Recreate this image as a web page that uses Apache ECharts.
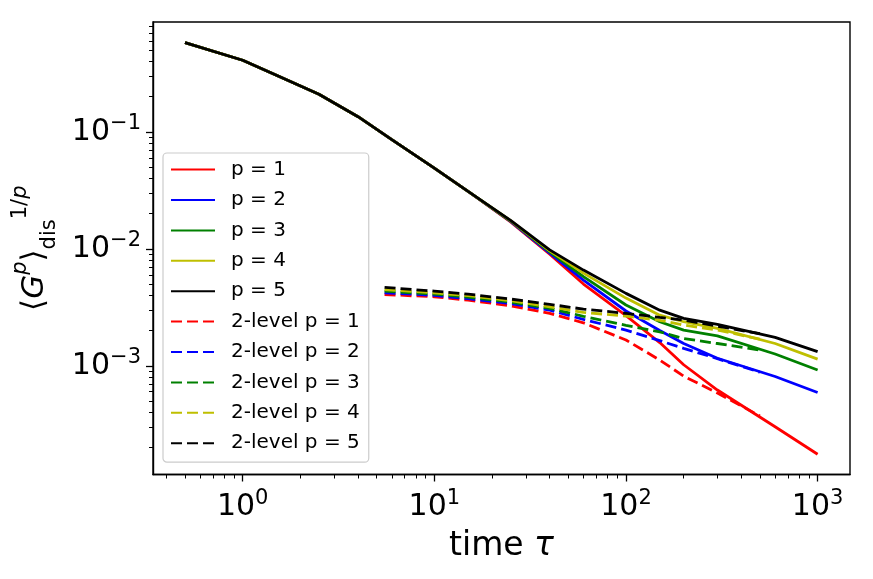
<!DOCTYPE html>
<html>
<head>
<meta charset="utf-8">
<script src="https://cdn.jsdelivr.net/npm/echarts@6/dist/echarts.min.js"></script>
<style>
html, body { margin: 0; padding: 0; background: #fff; }
#chart { width: 873px; height: 579px; }
</style>
</head>
<body>
<div id="chart"></div>
<script>
// time grid of the full curves and of the 2-level curves
var tauSolid = [0.5, 1, 1.5, 2.5, 4, 6, 10, 15, 25, 40, 60, 100, 150, 200, 300, 600, 1000];
var tauDashed = [5.5, 10, 15, 25, 40, 60, 100, 150, 200, 300, 500];

// <G^p>_dis^(1/p), full curves
var solidP1 = [0.58, 0.41, 0.305, 0.21, 0.135, 0.086, 0.049, 0.031, 0.0170, 0.0090, 0.0050, 0.00268, 0.00158, 0.00102, 0.00062, 0.000301, 0.000175];
var solidP2 = [0.58, 0.41, 0.305, 0.21, 0.135, 0.086, 0.049, 0.031, 0.0172, 0.0092, 0.0054, 0.00294, 0.0020, 0.00155, 0.00116, 0.00081, 0.00059];
var solidP3 = [0.58, 0.41, 0.305, 0.21, 0.135, 0.086, 0.049, 0.031, 0.0173, 0.0094, 0.00578, 0.00331, 0.00238, 0.00202, 0.00180, 0.00126, 0.00092];
var solidP4 = [0.58, 0.41, 0.305, 0.21, 0.135, 0.086, 0.049, 0.031, 0.0174, 0.0096, 0.0062, 0.00379, 0.00271, 0.00238, 0.00209, 0.00155, 0.00114];
var solidP5 = [0.58, 0.41, 0.305, 0.21, 0.135, 0.086, 0.049, 0.031, 0.0175, 0.0098, 0.00658, 0.00416, 0.00299, 0.00254, 0.00226, 0.00175, 0.00132];

// 2-level approximation
var dashedP1 = [0.00407, 0.00389, 0.00364, 0.00326, 0.00281, 0.00233, 0.00166, 0.00112, 0.000815, 0.000585, 0.000372];
var dashedP2 = [0.00421, 0.00400, 0.00375, 0.00340, 0.00299, 0.00249, 0.00202, 0.00164, 0.00141, 0.00115, 0.00088];
var dashedP3 = [0.00435, 0.00410, 0.00386, 0.00350, 0.00310, 0.00265, 0.00222, 0.00195, 0.00171, 0.00155, 0.00136];
var dashedP4 = [0.00448, 0.00420, 0.00398, 0.00360, 0.00319, 0.00286, 0.00266, 0.00245, 0.00223, 0.00202, 0.00169];
var dashedP5 = [0.00468, 0.00435, 0.00410, 0.00372, 0.00335, 0.00305, 0.00281, 0.00259, 0.00246, 0.00218, 0.00188];

var colors = ['#ff0000', '#0000ff', '#008000', '#bfbf00', '#000000'];

// axis extent and ticks, in decades
var xRange = [-0.468, 3.169];
var yRange = [-3.930, -0.060];
var xTickExps = [0, 1, 2, 3];
var yTickExps = [-3, -2, -1];

function toLog(ts, vs) {
  return ts.map(function (t, i) { return [Math.log10(t), Math.log10(vs[i])]; });
}

function minorTicks(r) {
  var out = [];
  for (var n = Math.floor(r[0]); n <= Math.ceil(r[1]); n++) {
    for (var k = 2; k <= 9; k++) {
      var v = n + Math.log10(k);
      if (v >= r[0] && v <= r[1]) out.push(v);
    }
  }
  return out;
}

function powLabel(v) {
  var e = Math.round(v);
  return '{b|10}{s|' + (e < 0 ? '\u2212' + (-e) : e) + '}';
}

var tickRich = {
  b: { fontSize: 30, lineHeight: 38, fontFamily: 'DejaVu Sans', color: '#000' },
  s: { fontSize: 21, lineHeight: 21, fontFamily: 'DejaVu Sans', color: '#000', verticalAlign: 'top' }
};

var solidSets = [solidP1, solidP2, solidP3, solidP4, solidP5];
var dashedSets = [dashedP1, dashedP2, dashedP3, dashedP4, dashedP5];
var series = [];
solidSets.forEach(function (d, i) {
  series.push({
    name: 'p = ' + (i + 1), type: 'line', symbol: 'none', data: toLog(tauSolid, d),
    lineStyle: { color: colors[i], width: 2.8 }, itemStyle: { color: colors[i] }
  });
});
dashedSets.forEach(function (d, i) {
  series.push({
    name: '2-level p = ' + (i + 1), type: 'line', symbol: 'none', data: toLog(tauDashed, d),
    lineStyle: { color: colors[i], width: 2.8, type: [11, 5] }, itemStyle: { color: colors[i] }
  });
});

var myChart = echarts.init(document.getElementById('chart'));
myChart.setOption({
  animation: false,
  backgroundColor: '#fff',
  textStyle: { fontFamily: 'DejaVu Sans' },
  grid: {
    left: 153, right: 23, top: 22, bottom: 104.5,
    show: true, borderColor: '#000', borderWidth: 1.4,
    containLabel: false, outerBoundsMode: 'none'
  },
  legend: {
    orient: 'vertical', left: 163, top: 153,
    padding: [6.6, 9, 9, 7],
    itemWidth: 44, itemHeight: 14, itemGap: 10.4,
    itemStyle: { opacity: 0 },
    backgroundColor: 'rgba(255,255,255,0.8)',
    borderColor: '#cccccc', borderWidth: 1.2, borderRadius: 4,
    textStyle: { fontSize: 20, lineHeight: 20, color: '#000', fontFamily: 'DejaVu Sans', padding: [0, 0, 0, 11] },
    data: series.map(function (s) { return s.name; })
  },
  xAxis: [{
    type: 'value', min: xRange[0], max: xRange[1], position: 'bottom',
    axisLine: { show: true, onZero: false, lineStyle: { color: '#000', width: 1.4 } },
    axisTick: { show: true, customValues: xTickExps, length: 7, lineStyle: { color: '#000', width: 1.3 } },
    axisLabel: { customValues: xTickExps, formatter: powLabel, rich: tickRich, margin: 14 },
    splitLine: { show: false },
    name: '{n|time }{t|\u03c4}', nameLocation: 'middle', nameGap: 55,
    nameTextStyle: {
      rich: {
        n: { fontSize: 33, fontFamily: 'DejaVu Sans', color: '#000' },
        t: { fontSize: 33, fontFamily: 'DejaVu Sans', fontStyle: 'italic', color: '#000' }
      }
    }
  }, {
    type: 'value', min: xRange[0], max: xRange[1], position: 'bottom',
    axisLine: { show: false, onZero: false },
    axisTick: { show: true, customValues: minorTicks(xRange), length: 4, lineStyle: { color: '#000', width: 1 } },
    axisLabel: { show: false },
    splitLine: { show: false }
  }],
  yAxis: [{
    type: 'value', min: yRange[0], max: yRange[1], position: 'left',
    axisLine: { show: true, onZero: false, lineStyle: { color: '#000', width: 1.4 } },
    axisTick: { show: true, customValues: yTickExps, length: 7, lineStyle: { color: '#000', width: 1.3 } },
    axisLabel: { customValues: yTickExps, formatter: powLabel, rich: tickRich, margin: 12 },
    splitLine: { show: false },
    name: '{a|\u27e8}{i|G}{sp|p}{a|\u27e9}{sub|dis}{sup|1/}{spi|p}',
    nameLocation: 'middle', nameGap: 93,
    nameTextStyle: {
      rich: {
        a: { fontSize: 31, lineHeight: 50, fontFamily: 'DejaVu Sans', color: '#000' },
        i: { fontSize: 31, lineHeight: 50, fontFamily: 'DejaVu Sans', fontStyle: 'italic', color: '#000' },
        sp: { fontSize: 21, lineHeight: 31, fontFamily: 'DejaVu Sans', fontStyle: 'italic', color: '#000', verticalAlign: 'top' },
        sub: { fontSize: 21, lineHeight: 26, fontFamily: 'DejaVu Sans', color: '#000', verticalAlign: 'bottom' },
        sup: { fontSize: 21, lineHeight: 26, fontFamily: 'DejaVu Sans', color: '#000', verticalAlign: 'top' },
        spi: { fontSize: 21, lineHeight: 26, fontFamily: 'DejaVu Sans', fontStyle: 'italic', color: '#000', verticalAlign: 'top' }
      }
    }
  }, {
    type: 'value', min: yRange[0], max: yRange[1], position: 'left',
    axisLine: { show: false, onZero: false },
    axisTick: { show: true, customValues: minorTicks(yRange), length: 4, lineStyle: { color: '#000', width: 1 } },
    axisLabel: { show: false },
    splitLine: { show: false }
  }],
  series: series
});
</script>
</body>
</html>
